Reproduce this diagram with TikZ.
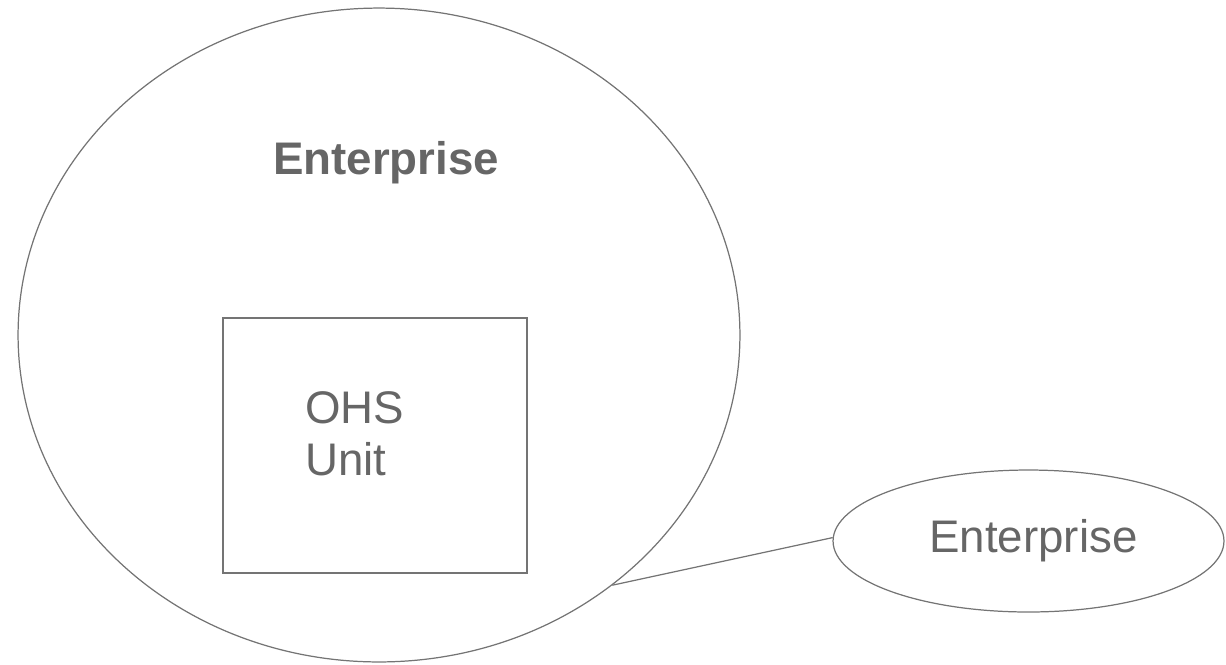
\documentclass[tikz,border=0pt]{standalone}
\usepackage{fontspec}
\setmainfont{Liberation Sans}
\usetikzlibrary{shapes.geometric}
\definecolor{linegray}{HTML}{747474}
\definecolor{textgray}{HTML}{666666}
\begin{document}
\begin{tikzpicture}[x=0.02cm,y=-0.02cm]
			\tikzset{outline/.style = {draw=linegray, line width=0.7pt}}
			\tikzset{bigtext/.style = {text=textgray, font=\fontsize{26}{29.5}\selectfont}}
			\useasboundingbox (0,0) rectangle (1226,664);
			% Enterprise and its OHS unit
			\node[outline, ellipse, minimum width=14.44cm, minimum height=13.08cm, inner sep=0pt] (bigent) at (379,335) {};
			\node[bigtext, font=\fontsize{26}{29.5}\selectfont\bfseries] (bigname) at (386,163) {Enterprise};
			\node[outline, rectangle, minimum width=6.08cm, minimum height=5.1cm, inner sep=0pt] (ohs) at (375,445.5) {};
			\node[bigtext, align=left, anchor=west, inner sep=0pt] (ohsname) at (305,434) {OHS\\Unit};
			% the other enterprise
			\node[outline, ellipse, minimum width=7.82cm, minimum height=2.84cm, inner sep=0pt, bigtext, text=textgray] (smallent) at (1028.5,541) {\hspace{0.2cm}Enterprise};
			\draw[draw=linegray, line width=0.7pt] (bigent.-47) -- (smallent.179);
		\end{tikzpicture}
\end{document}
